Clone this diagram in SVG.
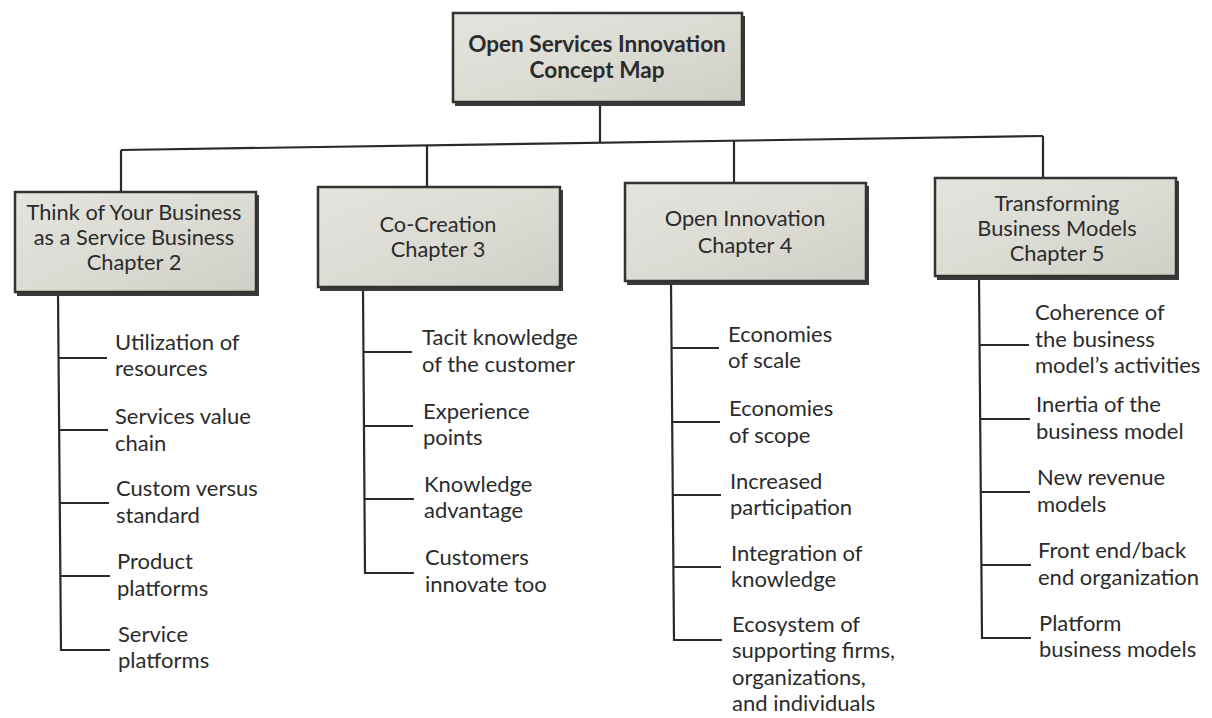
<svg xmlns="http://www.w3.org/2000/svg" width="1212" height="718" viewBox="0 0 1212 718">
<defs>
<linearGradient id="boxg" x1="0" y1="0" x2="1" y2="1">
<stop offset="0" stop-color="#e4e4de"/>
<stop offset="0.5" stop-color="#dcdcd5"/>
<stop offset="1" stop-color="#cfcfc8"/>
</linearGradient>
<style>
.box{fill:url(#boxg);stroke:#333;stroke-width:2.5}
.shadow{fill:#3a3a3a}
.ln{stroke:#2a2a2a;stroke-width:2.2;fill:none}
.t{font-family:Lato,"Liberation Sans",sans-serif;font-size:22px;fill:#2b2b2b}
.bt{font-family:Lato,"Liberation Sans",sans-serif;font-size:21.8px;fill:#2b2b2b;text-anchor:middle}
.rt{font-family:Lato,"Liberation Sans",sans-serif;font-size:22.6px;font-weight:bold;fill:#2b2b2b;text-anchor:middle}
</style>
</defs>
<rect width="1212" height="718" fill="#ffffff"/>

<g id="connectors">
<line class="ln" x1="600" y1="103" x2="600" y2="142.7"/>
<line class="ln" x1="121" y1="150" x2="1043" y2="136"/>
<line class="ln" x1="121" y1="150" x2="121" y2="192"/>
<line class="ln" x1="427" y1="145.4" x2="427" y2="187"/>
<line class="ln" x1="734" y1="140.7" x2="734" y2="183"/>
<line class="ln" x1="1043" y1="136" x2="1043" y2="178"/>
<!-- chapter 2 -->
<polyline class="ln" points="58,293 61,650 110,650"/>
<line class="ln" x1="58.5" y1="358" x2="107" y2="358"/>
<line class="ln" x1="59" y1="430" x2="108" y2="430"/>
<line class="ln" x1="60" y1="503" x2="109" y2="503"/>
<line class="ln" x1="60.5" y1="576" x2="110" y2="576"/>
<!-- chapter 3 -->
<polyline class="ln" points="363,288 365,573 414,573"/>
<line class="ln" x1="363.5" y1="352" x2="412" y2="352"/>
<line class="ln" x1="364" y1="426" x2="413" y2="426"/>
<line class="ln" x1="364.5" y1="499" x2="414" y2="499"/>
<!-- chapter 4 -->
<polyline class="ln" points="671,282 674,640 722,640"/>
<line class="ln" x1="671.5" y1="348" x2="719" y2="348"/>
<line class="ln" x1="672" y1="422" x2="720" y2="422"/>
<line class="ln" x1="673" y1="495" x2="721" y2="495"/>
<line class="ln" x1="673.5" y1="567" x2="721" y2="567"/>
<!-- chapter 5 -->
<polyline class="ln" points="979,277 982,638 1031,638"/>
<line class="ln" x1="979.5" y1="345" x2="1029" y2="345"/>
<line class="ln" x1="980" y1="419" x2="1030" y2="419"/>
<line class="ln" x1="981" y1="492" x2="1030" y2="492"/>
<line class="ln" x1="981.5" y1="565" x2="1031" y2="565"/>
</g>

<g id="root">
<rect class="shadow" x="455" y="16" width="290" height="90"/>
<rect class="box" x="453" y="13" width="289" height="89"/>
<text class="rt" x="597" y="52">Open Services Innovation</text>
<text class="rt" x="597" y="78">Concept Map</text>
</g>

<g id="ch2">
<rect class="shadow" x="17" y="195" width="242" height="101"/>
<rect class="box" x="15" y="192" width="241" height="100"/>
<text class="bt" x="134" y="220">Think of Your Business</text>
<text class="bt" x="134" y="245">as a Service Business</text>
<text class="bt" x="134" y="270">Chapter 2</text>
</g>

<g id="ch3">
<rect class="shadow" x="320" y="190" width="243" height="101"/>
<rect class="box" x="318" y="187" width="242" height="100"/>
<text class="bt" x="438" y="232">Co-Creation</text>
<text class="bt" x="438" y="257">Chapter 3</text>
</g>

<g id="ch4">
<rect class="shadow" x="627" y="186" width="242" height="99"/>
<rect class="box" x="625" y="183" width="241" height="98"/>
<text class="bt" x="745" y="226">Open Innovation</text>
<text class="bt" x="745" y="253">Chapter 4</text>
</g>

<g id="ch5">
<rect class="shadow" x="937" y="181" width="242" height="99"/>
<rect class="box" x="935" y="178" width="241" height="98"/>
<text class="bt" x="1057" y="211">Transforming</text>
<text class="bt" x="1057" y="236">Business Models</text>
<text class="bt" x="1057" y="261">Chapter 5</text>
</g>

<g id="items-ch2">
<text class="t" x="115" y="350">Utilization of</text>
<text class="t" x="115" y="376">resources</text>
<text class="t" x="115" y="424">Services value</text>
<text class="t" x="115" y="451">chain</text>
<text class="t" x="116" y="496">Custom versus</text>
<text class="t" x="116" y="523">standard</text>
<text class="t" x="117" y="569">Product</text>
<text class="t" x="117" y="596">platforms</text>
<text class="t" x="118" y="642">Service</text>
<text class="t" x="118" y="668">platforms</text>
</g>

<g id="items-ch3">
<text class="t" x="422" y="345">Tacit knowledge</text>
<text class="t" x="422" y="372">of the customer</text>
<text class="t" x="423" y="419">Experience</text>
<text class="t" x="423" y="445">points</text>
<text class="t" x="424" y="492">Knowledge</text>
<text class="t" x="424" y="518">advantage</text>
<text class="t" x="425" y="565">Customers</text>
<text class="t" x="425" y="592">innovate too</text>
</g>

<g id="items-ch4">
<text class="t" x="728" y="342">Economies</text>
<text class="t" x="728" y="368">of scale</text>
<text class="t" x="729" y="416">Economies</text>
<text class="t" x="729" y="443">of scope</text>
<text class="t" x="730" y="489">Increased</text>
<text class="t" x="730" y="515">participation</text>
<text class="t" x="731" y="561">Integration of</text>
<text class="t" x="731" y="587">knowledge</text>
<text class="t" x="732" y="632">Ecosystem of</text>
<text class="t" x="732" y="658">supporting firms,</text>
<text class="t" x="732" y="685">organizations,</text>
<text class="t" x="732" y="711">and individuals</text>
</g>

<g id="items-ch5">
<text class="t" x="1035" y="320">Coherence of</text>
<text class="t" x="1035" y="347">the business</text>
<text class="t" x="1035" y="373">model’s activities</text>
<text class="t" x="1036" y="412">Inertia of the</text>
<text class="t" x="1036" y="439">business model</text>
<text class="t" x="1037" y="485">New revenue</text>
<text class="t" x="1037" y="512">models</text>
<text class="t" x="1038" y="558">Front end/back</text>
<text class="t" x="1038" y="585">end organization</text>
<text class="t" x="1039" y="631">Platform</text>
<text class="t" x="1039" y="657">business models</text>
</g>
</svg>
